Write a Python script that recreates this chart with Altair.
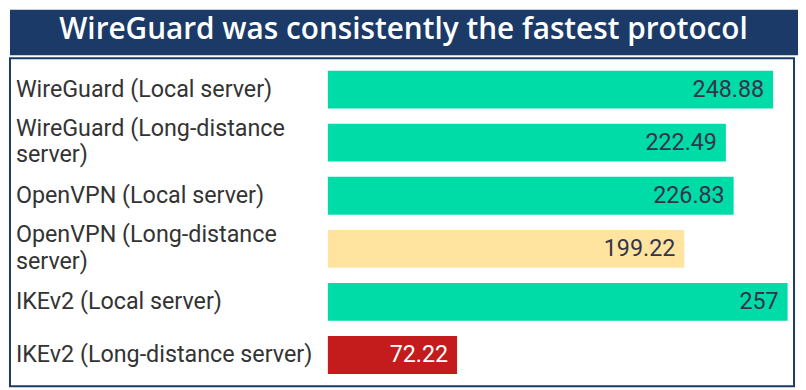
import altair as alt
import pandas as pd

title_text = "WireGuard was consistently the fastest protocol"
categories = [
    "WireGuard (Local server)",
    "WireGuard (Long-distance server)",
    "OpenVPN (Local server)",
    "OpenVPN (Long-distance server)",
    "IKEv2 (Local server)",
    "IKEv2 (Long-distance server)",
]
label_lines = [
    "WireGuard (Local server)",
    "WireGuard (Long-distance\nserver)",
    "OpenVPN (Local server)",
    "OpenVPN (Long-distance\nserver)",
    "IKEv2 (Local server)",
    "IKEv2 (Long-distance server)",
]
speeds = [248.88, 222.49, 226.83, 199.22, 257, 72.22]
speed_text = ["248.88", "222.49", "226.83", "199.22", "257", "72.22"]
tier = ["fast", "fast", "fast", "medium", "fast", "slow"]

df = pd.DataFrame({
    "category": categories,
    "label": label_lines,
    "speed": speeds,
    "speed_text": speed_text,
    "tier": tier,
})

tier_domain = ["fast", "medium", "slow"]
bar_colors = ["#00dca8", "#fee49e", "#c41c1c"]
text_colors = ["#34344a", "#34344a", "#ffffff"]

NAVY = "#1b3a67"

banner = alt.Chart(pd.DataFrame({"t": [title_text]})).mark_text(
    font="Open Sans", fontWeight=600, fontSize=30, color="white",
    align="center", baseline="middle"
).encode(
    x=alt.value(397), y=alt.value(21), text="t:N"
).properties(width=795, height=46, view=alt.ViewBackground(fill=NAVY, stroke=None))

y_enc = alt.Y("category:N", sort=categories, axis=None,
              scale=alt.Scale(paddingInner=0.288, paddingOuter=0.234))
x_scale = alt.Scale(domain=[-177.7, 260.6], nice=False, zero=False)

bars = alt.Chart(df).mark_bar().encode(
    y=y_enc,
    x=alt.X("speed:Q", scale=x_scale, axis=None),
    x2=alt.datum(0),
    color=alt.Color("tier:N", scale=alt.Scale(domain=tier_domain, range=bar_colors), legend=None),
)

values = alt.Chart(df).mark_text(
    font="Roboto", fontSize=23.5, align="right", baseline="middle", dx=-9
).encode(
    y=y_enc,
    x=alt.X("speed:Q", scale=x_scale, axis=None),
    text="speed_text:N",
    color=alt.Color("tier:N", scale=alt.Scale(domain=tier_domain, range=text_colors), legend=None),
)

label_style = dict(font="Roboto", fontSize=23.5, align="left", baseline="middle",
                   lineBreak="\n", lineHeight=27, color="#333333")

labels_single = alt.Chart(df).transform_filter(
    "indexof(datum.label, '\\n') < 0"
).mark_text(**label_style).encode(
    y=y_enc, x=alt.value(6), text="label:N",
)

labels_multi = alt.Chart(df).transform_filter(
    "indexof(datum.label, '\\n') >= 0"
).mark_text(dy=-14, **label_style).encode(
    y=y_enc, x=alt.value(6), text="label:N",
)

body = alt.layer(bars, values, labels_single, labels_multi).properties(
    width=791, height=331,
    view=alt.ViewBackground(fill="white", stroke=NAVY, strokeWidth=2),
).resolve_scale(color="independent")

chart = alt.vconcat(banner, body, spacing=2).properties(
    padding={"left": 1, "top": 0, "right": 0, "bottom": 0},
    background="white",
)

chart.save("out.html", embed_options={"renderer": "svg", "actions": False})
